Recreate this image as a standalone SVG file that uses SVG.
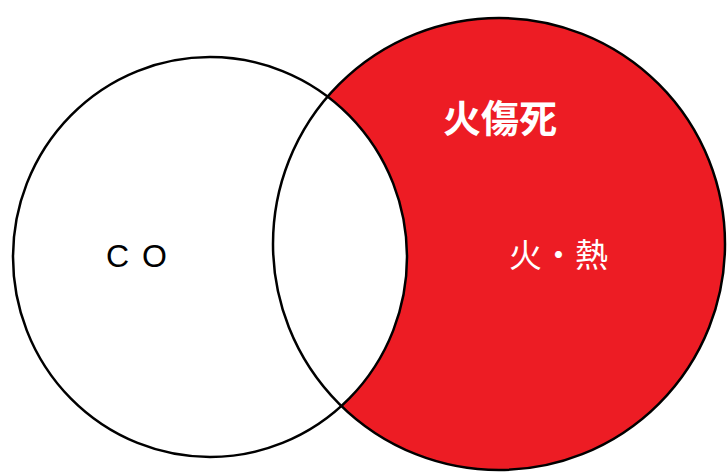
<svg xmlns="http://www.w3.org/2000/svg" width="727" height="473" viewBox="0 0 727 473">
<style>
.ring{fill:none;stroke:#000;stroke-width:2.5}
.jp{font-family:"Noto Sans CJK JP","Noto Sans CJK SC",sans-serif;fill:#fff}
.lat{font-family:"Liberation Sans",Arial,sans-serif;fill:#000}
</style>
<rect width="727" height="473" fill="#fff"/>
<g id="fire">
<ellipse cx="499" cy="244" rx="226" ry="226" fill="#ED1C24"/>
</g>
<g id="co">
<ellipse cx="210" cy="257" rx="197" ry="200" fill="#fff"/>
</g>
<g id="outlines">
<ellipse class="ring" cx="499" cy="244" rx="226" ry="226"/>
<ellipse class="ring" cx="210" cy="257" rx="197" ry="200"/>
</g>
<g id="labels">
<text class="jp" x="443" y="132" font-size="38" font-weight="bold">火傷死</text>
<text class="jp" x="509" y="267" font-size="33">火・熱</text>
<text class="lat" x="106" y="267" font-size="32">C</text>
<text class="lat" x="142" y="267" font-size="32">O</text>
</g>
</svg>
